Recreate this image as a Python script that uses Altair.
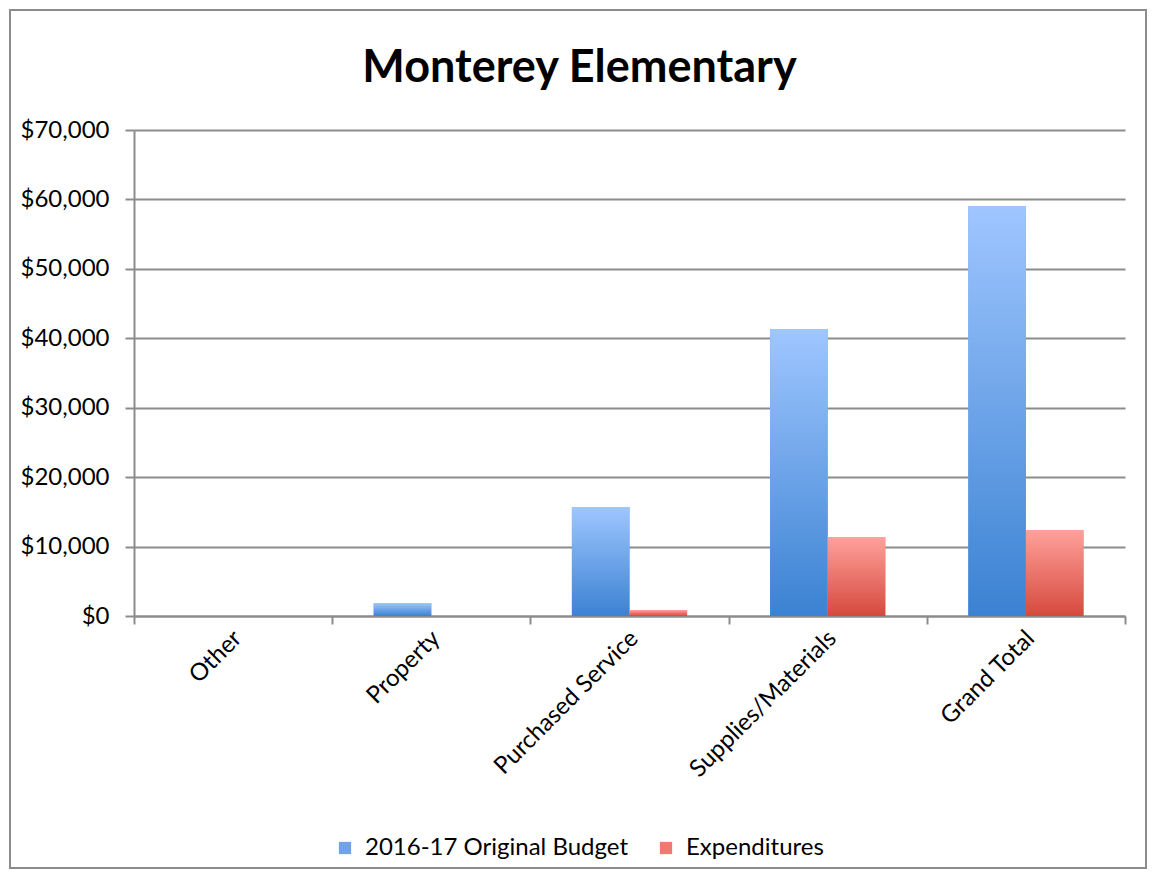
import altair as alt
import pandas as pd

categories = ["Other", "Property", "Purchased Service", "Supplies/Materials", "Grand Total"]
series_names = ["2016-17 Original Budget", "Expenditures"]
budget = [0, 1870, 15700, 41350, 59050]
expenditures = [0, 0, 860, 11380, 12390]
y_ticks = [0, 10000, 20000, 30000, 40000, 50000, 60000, 70000]

rows = []
for c, b, e in zip(categories, budget, expenditures):
    rows.append({"category": c, "series": series_names[0], "value": b})
    rows.append({"category": c, "series": series_names[1], "value": e})
df = pd.DataFrame(rows)

FONT = "Lato"
GRID = "#8c8c8c"

blue_grad = {
    "gradient": "linear", "x1": 0, "y1": 0, "x2": 0, "y2": 1,
    "stops": [{"offset": 0, "color": "#9fc6ff"}, {"offset": 1, "color": "#3b82d2"}],
}
red_grad = {
    "gradient": "linear", "x1": 0, "y1": 0, "x2": 0, "y2": 1,
    "stops": [{"offset": 0, "color": "#ffa19c"}, {"offset": 1, "color": "#d6493d"}],
}

x_enc = alt.X(
    "category:N",
    sort=categories,
    scale=alt.Scale(paddingInner=0, paddingOuter=0),
    axis=alt.Axis(
        title=None, labelAngle=-45, labelFontSize=24, labelFont=FONT, labelColor="black",
        tickBand="extent", ticks=True, tickSize=8, tickColor=GRID, tickWidth=2,
        domainColor=GRID, domainWidth=2, labelPadding=2, labelOffset=-4, labelLimit=0,
        grid=False,
    ),
)
xoff = alt.XOffset(
    "series:N", sort=series_names,
    scale=alt.Scale(domain=series_names, paddingInner=0, paddingOuter=0.72),
)
y_enc = alt.Y(
    "value:Q",
    scale=alt.Scale(domain=[0, 70000], nice=False),
    axis=alt.Axis(
        title=None, values=y_ticks, format="$,.0f", labelFontSize=24, labelFont=FONT,
        labelColor="black", tickSize=9, tickColor=GRID, tickWidth=2, labelPadding=16,
        domainColor=GRID, domainWidth=2, grid=True, gridColor=GRID, gridWidth=2,
    ),
)

base = alt.Chart(df)

legend_layer = base.mark_bar().encode(
    x=x_enc, xOffset=xoff, y=y_enc,
    color=alt.Color(
        "series:N",
        scale=alt.Scale(domain=series_names, range=["#6fa4e8", "#ee7a72"]),
        legend=alt.Legend(
            title=None, orient="none", direction="horizontal", legendX=199, legendY=706,
            labelFontSize=24, labelFont=FONT, labelColor="black", symbolType="square",
            symbolSize=150, symbolStrokeWidth=0, columnPadding=26, labelOffset=8,
            labelLimit=0,
        ),
    ),
)

blue_layer = base.mark_bar(fill=blue_grad).encode(x=x_enc, xOffset=xoff, y=y_enc).transform_filter(
    alt.datum.series == series_names[0]
)
red_layer = base.mark_bar(fill=red_grad).encode(x=x_enc, xOffset=xoff, y=y_enc).transform_filter(
    alt.datum.series == series_names[1]
)

frame = alt.Chart(pd.DataFrame({"a": [0]})).mark_rect(
    fill=None, stroke=GRID, strokeWidth=2, clip=False
).encode(
    x=alt.value(-124), x2=alt.value(1012), y=alt.value(-120), y2=alt.value(738)
)

chart = alt.layer(frame, legend_layer, blue_layer, red_layer).properties(
    width=991, height=486,
    title=alt.TitleParams(
        "Monterey Elementary", fontSize=45, font=FONT, fontWeight="bold", color="black",
        anchor="middle", frame="group", dx=-50, offset=-82,
    ),
    autosize=alt.AutoSizeParams(type="none"),
    padding={"left": 126, "top": 122, "right": 23, "bottom": 254},
).configure_view(stroke=None)

chart.save("out.html", embed_options={"renderer": "svg", "actions": False})
